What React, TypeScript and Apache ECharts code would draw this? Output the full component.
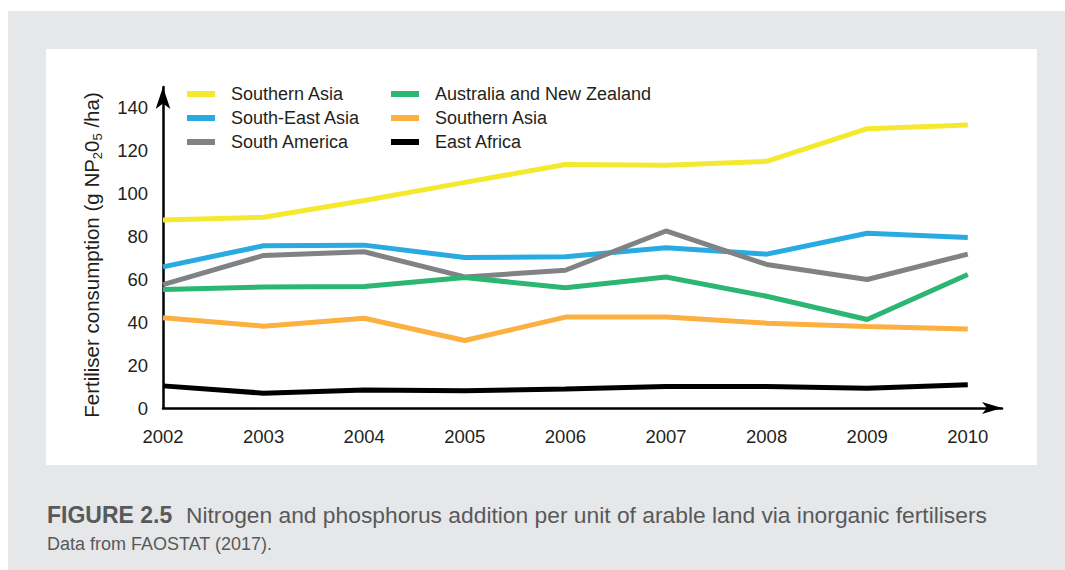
import React, { useEffect, useRef } from "react";
import * as echarts from "echarts";

const years = [2002, 2003, 2004, 2005, 2006, 2007, 2008, 2009, 2010];
const yTicks = [0, 20, 40, 60, 80, 100, 120, 140];

const southernAsiaN = [87.5, 88.8, 96.6, 105, 113.3, 113, 114.8, 130, 131.7];
const southEastAsia = [65.7, 75.5, 75.8, 70, 70.4, 74.6, 71.6, 81.3, 79.4];
const southAmerica = [57.4, 71, 72.7, 61, 64.1, 82.4, 66.8, 59.8, 71.6];
const australiaNZ = [55.1, 56.3, 56.5, 60.7, 56, 61, 52, 41.2, 62.1];
const southernAsiaP = [42, 38.1, 41.8, 31.4, 42.3, 42.3, 39.5, 37.9, 36.8];
const eastAfrica = [10.3, 6.9, 8.4, 8, 8.8, 10, 10, 9.2, 10.8];

const seriesDefs = [
  { key: "Southern Asia", data: southernAsiaN, color: "#f5e930" },
  { key: "South-East Asia", data: southEastAsia, color: "#29abe2" },
  { key: "South America", data: southAmerica, color: "#808285" },
  { key: "Australia and New Zealand", data: australiaNZ, color: "#2bb673" },
  { key: "Southern Asia#2", data: southernAsiaP, color: "#fbb040" },
  { key: "East Africa", data: eastAfrica, color: "#000000" },
];

const FONT = "'Liberation Sans Narrow', 'Liberation Sans', Arial, sans-serif";

export default function App() {
  const ref = useRef<HTMLDivElement>(null);
  useEffect(() => {
    if (!ref.current) return;
    const chart = echarts.init(ref.current, undefined, { renderer: "svg" });
    const legendCommon = {
      orient: "vertical" as const,
      top: 77,
      itemWidth: 28,
      itemHeight: 6,
      itemGap: 0,
      icon: "rect",
      formatter: (n: string) => n.replace(/#\d$/, ""),
      textStyle: {
        fontFamily: FONT,
        fontSize: 18,
        color: "#231f20",
        lineHeight: 24,
        padding: [0, 0, 0, 11],
      },
    };
    chart.setOption({
      animation: false,
      graphic: [
        { type: "rect", z: -10, shape: { x: 8, y: 11, width: 1057, height: 559 }, style: { fill: "#e6e7e8" } },
        { type: "rect", z: -9, shape: { x: 46, y: 49, width: 991, height: 416 }, style: { fill: "#ffffff" } },
        {
          type: "text",
          x: 91,
          y: 255,
          rotation: Math.PI / 2,
          style: {
            text: "{n|Fertiliser consumption (g NP}{s|2}{n|0}{s|5}{n| /ha)}",
            align: "center",
            verticalAlign: "middle",
            fill: "#231f20",
            rich: {
              n: { fontFamily: FONT, fontSize: 20.5, fill: "#231f20", verticalAlign: "middle" },
              s: { fontFamily: FONT, fontSize: 13, fill: "#231f20", padding: [12, 0, 0, 0] },
            },
          },
        },
        {
          type: "text",
          x: 47,
          y: 515,
          style: {
            text: "FIGURE 2.5",
            font: `bold 23px ${FONT}`,
            fill: "#58595b",
            verticalAlign: "middle",
          },
        },
        {
          type: "text",
          x: 186,
          y: 515,
          style: {
            text: "Nitrogen and phosphorus addition per unit of arable land via inorganic fertilisers",
            font: `22.8px ${FONT}`,
            fill: "#58595b",
            verticalAlign: "middle",
          },
        },
        {
          type: "text",
          x: 47,
          y: 544,
          style: {
            text: "Data from FAOSTAT (2017).",
            font: `18px ${FONT}`,
            fill: "#58595b",
            verticalAlign: "middle",
          },
        },
      ],
      legend: [
        { ...legendCommon, left: 182, data: ["Southern Asia", "South-East Asia", "South America"] },
        { ...legendCommon, left: 386, data: ["Australia and New Zealand", "Southern Asia#2", "East Africa"] },
      ],
      grid: { left: 163, right: 63, top: 87, bottom: 162, containLabel: false },
      xAxis: {
        type: "value",
        min: 2002,
        max: 2010.34,
        interval: 1,
        axisLine: {
          show: true,
          lineStyle: { color: "#000", width: 2.5 },
          symbol: ["none", "arrow"],
          symbolSize: [9, 20],
        },
        axisTick: { show: false },
        splitLine: { show: false },
        axisLabel: {
          margin: 19,
          fontFamily: FONT,
          fontSize: 18.5,
          color: "#231f20",
          formatter: (v: number) => (years.includes(v) ? String(v) : ""),
        },
      },
      yAxis: {
        type: "value",
        min: 0,
        max: 149.4,
        interval: 20,
        axisLine: {
          show: true,
          lineStyle: { color: "#000", width: 2.5 },
          symbol: ["none", "arrow"],
          symbolSize: [11, 22],
        },
        axisTick: { show: false },
        splitLine: { show: false },
        axisLabel: {
          margin: 15,
          fontFamily: FONT,
          fontSize: 18.5,
          color: "#231f20",
          formatter: (v: number) => (yTicks.includes(v) ? String(v) : ""),
        },
      },
      series: seriesDefs.map((s) => ({
        name: s.key,
        type: "line",
        data: s.data.map((v, i) => [years[i], v]),
        showSymbol: false,
        symbol: "none",
        lineStyle: { color: s.color, width: 5 },
        itemStyle: { color: s.color },
        emphasis: { disabled: true },
      })),
    });
    return () => chart.dispose();
  }, []);
  return (
    <div
      ref={ref}
      style={{ position: "absolute", left: 0, top: 0, width: 1065, height: 570 }}
    />
  );
}
